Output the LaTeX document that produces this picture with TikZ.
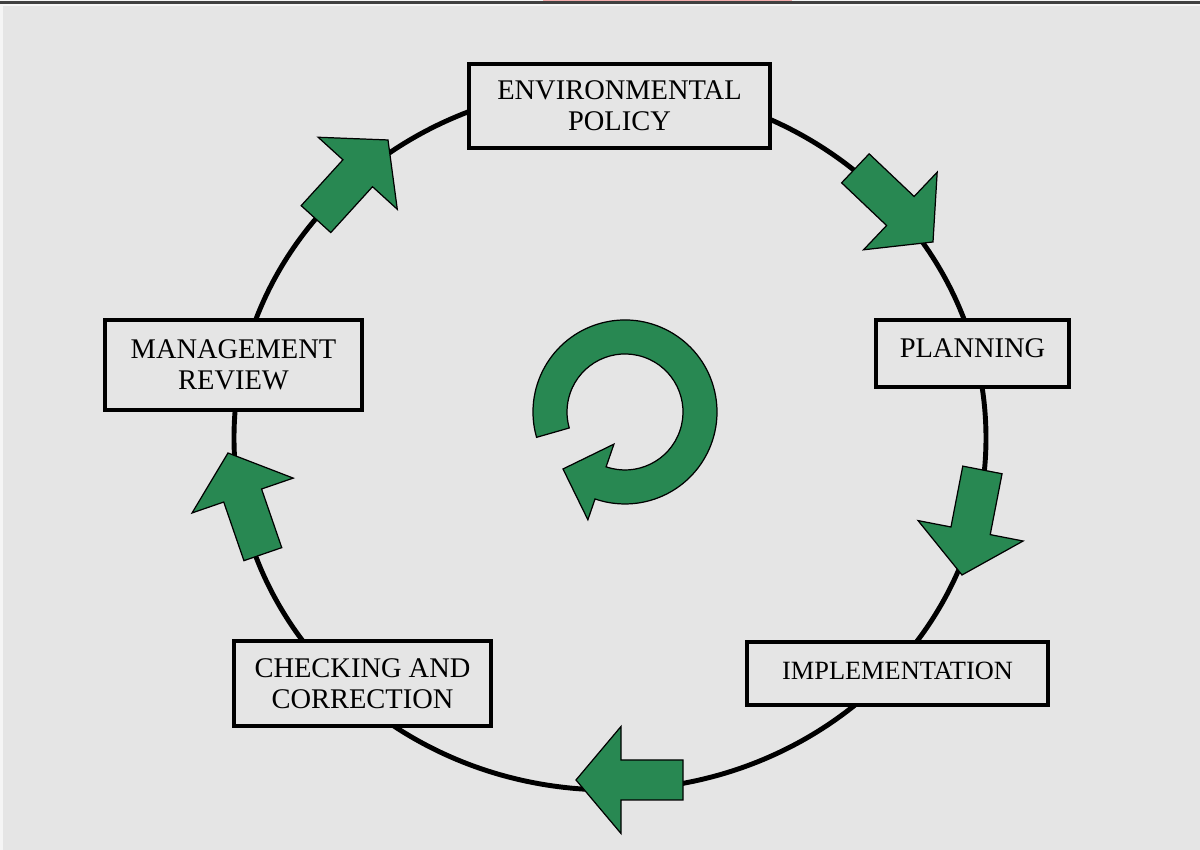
\documentclass[tikz,border=0pt]{standalone}
\usepackage{fontspec}
\setmainfont{Liberation Serif}
\usepackage{xcolor}
\usepackage{tikz}
\definecolor{cycle_green}{RGB}{40,136,82}
\definecolor{page_grey}{RGB}{229,229,229}
\definecolor{rule_pink}{RGB}{242,172,172}

\begin{document}
\begin{tikzpicture}[font=\fontsize{8.1}{8.8}\selectfont,
    stage/.style={draw, line width=1.1pt, fill=page_grey, align=center, inner sep=0pt},
    blockarrow/.style={draw=black, line width=0.35pt, fill=cycle_green, line join=miter}]
  \useasboundingbox (0,0) rectangle (12,8.5);
  % page background and top rule
  \fill[page_grey] (0,0) rectangle (12,8.5);
  \fill[black!4] (0,8.44) rectangle (12,8.5);
  \fill[black!4] (0,0) rectangle (0.03,8.5);
  \fill[black!75] (0,8.46) rectangle (12,8.485);
  \fill[rule_pink] (5.43,8.485) rectangle (7.92,8.5);
  % cycle line
  \coordinate (hub) at (6.10,4.12);
  \draw[line width=1.4pt] (hub) ellipse [x radius=3.76, y radius=3.52];
  % stage boxes
  \node[stage, minimum width=3.01cm, minimum height=0.84cm] (policy) at (6.195,7.44)
    {ENVIRONMENTAL\\POLICY};
  \node[stage, minimum width=1.93cm, minimum height=0.67cm, text depth=2.8pt] (planning)
    at (9.725,4.965) {PLANNING};
  \node[stage, minimum width=3.01cm, minimum height=0.63cm, text depth=1.4pt,
        font=\fontsize{7.5}{8.8}\selectfont] (implementation) at (8.975,1.765)
    {IMPLEMENTATION};
  \node[stage, minimum width=2.57cm, minimum height=0.85cm] (checking) at (3.625,1.665)
    {CHECKING AND\\CORRECTION};
  \node[stage, minimum width=2.57cm, minimum height=0.90cm] (review) at (2.335,4.85)
    {MANAGEMENT\\REVIEW};
  % block arrows on the cycle
  \foreach \x/\y/\ang in {3.88/7.10/47.7, 9.33/6.08/-43.5, 9.62/2.75/-101,
                          5.76/0.70/180, 2.28/3.97/109}{
    \draw[blockarrow, shift={(\x,\y)}, rotate=\ang]
      (0,0) -- (-0.45,0.535) -- (-0.45,0.2) -- (-1.07,0.2)
      -- (-1.07,-0.2) -- (-0.45,-0.2) -- (-0.45,-0.535) -- cycle;
  }
  % turning arrow in the middle
  \begin{scope}[shift={(6.25,4.38)}]
    \draw[blockarrow] (196:0.92) arc[start angle=196, end angle=-109, radius=0.92]
      -- (-109:1.14) -- (-0.62,-0.57) -- (-109:0.34) -- (-109:0.58)
      arc[start angle=-109, end angle=196, radius=0.58] -- cycle;
  \end{scope}
\end{tikzpicture}
\end{document}
